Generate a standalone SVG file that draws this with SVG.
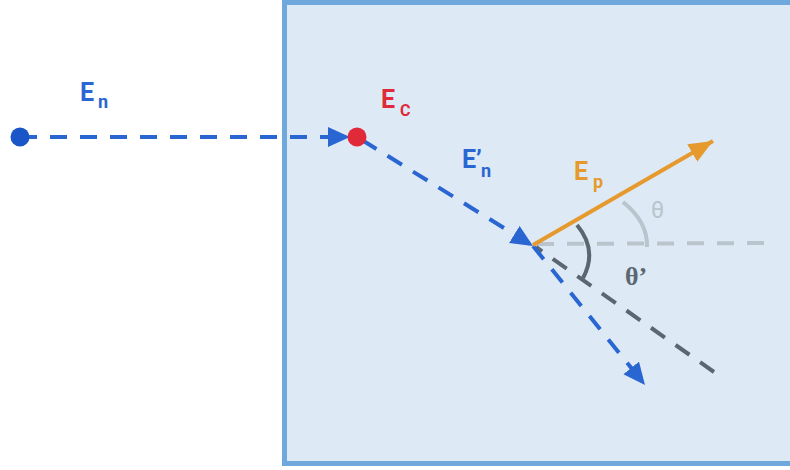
<svg xmlns="http://www.w3.org/2000/svg" width="790" height="470" viewBox="0 0 790 470">
<style>
.lbl{font-family:Roboto,"Liberation Sans",sans-serif;font-weight:bold}
.sub{font-family:Roboto,"Liberation Sans",sans-serif;font-weight:bold}
.blue{fill:#2a66d2}
.dash{fill:none;stroke-width:4;stroke-dasharray:17 13}
</style>
<defs>
<marker id="ab" markerUnits="userSpaceOnUse" markerWidth="24" markerHeight="22" refX="22" refY="10" orient="auto" viewBox="0 0 24 22">
<path d="M0,0 L22,10 L0,20 z" fill="#2a66d2"/>
</marker>
<marker id="ao" markerUnits="userSpaceOnUse" markerWidth="26" markerHeight="22" refX="24" refY="10" orient="auto" viewBox="0 0 26 22">
<path d="M0,0 L24,10 L0,20 z" fill="#e69a2e"/>
</marker>
</defs>
<g id="region">
<rect x="284.5" y="2.5" width="515" height="461" fill="#dde9f5" stroke="#6fa8dc" stroke-width="5"/>
</g>
<g id="connectors">
<line x1="537" y1="244" x2="765" y2="243" class="dash" stroke="#b9c4cc"/>
<path d="M623 202 Q648 222 647 247" fill="none" stroke="#b9c4cc" stroke-width="4"/>
<path d="M577 225 Q598 250 583 278" fill="none" stroke="#5b6770" stroke-width="4"/>
<line x1="714" y1="372" x2="536" y2="247" class="dash" stroke="#5b6770" stroke-dasharray="5 13 17 13 17 13 17 13 17 13 17 13 17 13 17 13"/>
<line x1="20" y1="137" x2="350" y2="137" class="dash" stroke="#2a66d2" marker-end="url(#ab)"/>
<line x1="362" y1="140" x2="533" y2="246" class="dash" stroke="#2a66d2" marker-end="url(#ab)"/>
<line x1="533" y1="246" x2="645" y2="385" class="dash" stroke="#2a66d2" marker-end="url(#ab)"/>
<line x1="533" y1="245" x2="713" y2="141" stroke="#e69a2e" stroke-width="4" marker-end="url(#ao)"/>
</g>
<g id="node-en">
<circle cx="20" cy="137" r="9.5" fill="#1a56c8"/>
<text x="80" y="101" class="lbl blue" font-size="25">E</text>
<text x="98" y="108" class="sub blue" font-size="18">n</text>
</g>
<g id="node-ec">
<circle cx="357" cy="137" r="9.5" fill="#e02a3a"/>
<text x="381" y="108" class="lbl" font-size="25" fill="#e02a3a">E</text>
<text x="400" y="116" class="sub" font-size="16" fill="#e02a3a">C</text>
</g>
<g id="label-en2">
<text x="462" y="168" class="lbl blue" font-size="25">E’</text>
<text x="481" y="177" class="sub blue" font-size="18">n</text>
</g>
<g id="label-ep">
<text x="574" y="180" class="lbl" font-size="25" fill="#e69a2e">E</text>
<text x="593" y="188" class="sub" font-size="18" fill="#e69a2e">p</text>
</g>
<g id="label-theta">
<text x="651" y="218" font-family="Roboto,'Liberation Sans',sans-serif" font-size="23" fill="#b9c4cc">θ</text>
</g>
<g id="label-theta2">
<text x="625" y="285" font-family="'Liberation Serif','DejaVu Serif',serif" font-weight="bold" font-size="26" fill="#5b6770">θ’</text>
</g>
</svg>
